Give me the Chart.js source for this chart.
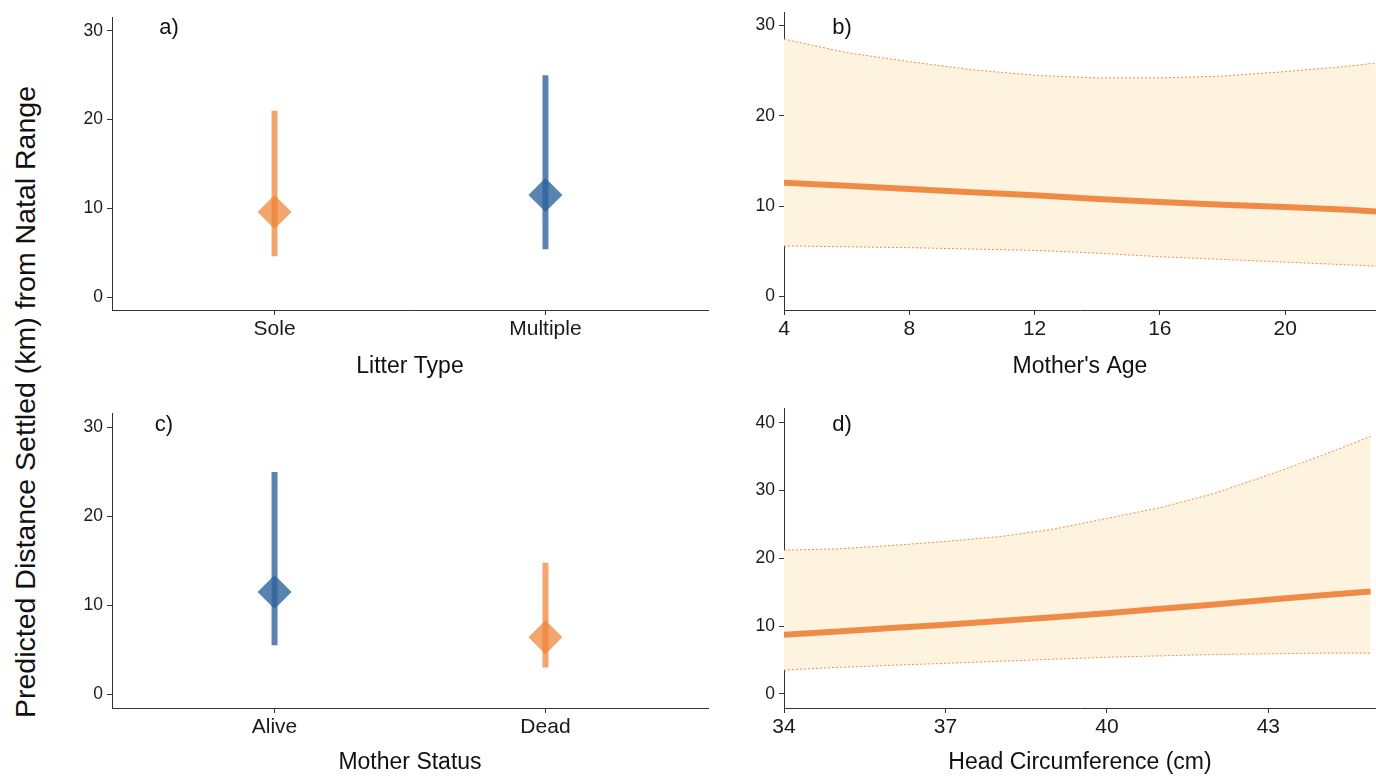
<!DOCTYPE html>
<html lang="en">
<head>
    <meta charset="UTF-8">
    <title>Predicted Distance Settled from Natal Range</title>
    <script src="https://cdn.jsdelivr.net/npm/chart.js@4.4.1/dist/chart.umd.min.js"></script>
    <style>
        body {
            margin: 0;
            width: 1376px;
            height: 780px;
            position: relative;
            overflow: hidden;
            background: #ffffff;
            font-family: 'Liberation Sans', Arial, sans-serif;
        }
        .panel { position: absolute; }
        .tag {
            position: absolute;
            font-size: 22px;
            color: #111;
            transform: translate(-50%, -50%);
        }
        #y-title {
            position: absolute;
            left: 25px;
            top: 402px;
            font-size: 28.5px;
            color: #111;
            white-space: nowrap;
            transform: translate(-50%, -50%) rotate(-90deg);
        }
    </style>
</head>
<body>
    <div id="y-title">Predicted Distance Settled (km) from Natal Range</div>

    <div class="panel" style="left:40px; top:0px;"><canvas id="panelA" width="690" height="392"></canvas></div>
    <div class="panel" style="left:720px; top:0px;"><canvas id="panelB" width="656" height="392"></canvas></div>
    <div class="panel" style="left:40px; top:396px;"><canvas id="panelC" width="690" height="384"></canvas></div>
    <div class="panel" style="left:720px; top:396px;"><canvas id="panelD" width="656" height="384"></canvas></div>

    <div class="tag" style="left:169px; top:27px;">a)</div>
    <div class="tag" style="left:842px; top:27px;">b)</div>
    <div class="tag" style="left:164px; top:424px;">c)</div>
    <div class="tag" style="left:842px; top:424px;">d)</div>

    <script>
        // a) litter type
        const litterTypes = ['Sole', 'Multiple'];
        const litterEst = [9.6, 11.5];
        const litterLow = [4.6, 5.4];
        const litterHigh = [21.0, 25.0];
        const litterColors = ['orange', 'blue'];

        // c) mother status
        const motherStatus = ['Alive', 'Dead'];
        const statusEst = [11.5, 6.4];
        const statusLow = [5.5, 3.0];
        const statusHigh = [25.0, 14.8];
        const statusColors = ['blue', 'orange'];

        // b) mother's age
        const ageX = [4, 6, 8, 10, 12, 14, 16, 18, 20, 22, 23];
        const ageFit = [12.6, 12.25, 11.9, 11.55, 11.2, 10.8, 10.45, 10.15, 9.9, 9.6, 9.4];
        const ageLow = [5.6, 5.5, 5.4, 5.25, 5.1, 4.8, 4.4, 4.1, 3.8, 3.5, 3.35];
        const ageHigh = [28.5, 27.0, 26.0, 25.1, 24.5, 24.2, 24.2, 24.4, 24.9, 25.5, 25.9];
        const ageTicks = [4, 8, 12, 16, 20];

        // d) head circumference
        const headX = [34, 35, 36, 37, 38, 39, 40, 41, 42, 43, 44, 44.9];
        const headFit = [8.7, 9.2, 9.7, 10.2, 10.75, 11.3, 11.9, 12.55, 13.2, 13.9, 14.55, 15.1];
        const headLow = [3.5, 3.9, 4.2, 4.5, 4.8, 5.1, 5.4, 5.6, 5.8, 5.9, 6.0, 6.0];
        const headHigh = [21.2, 21.4, 21.9, 22.5, 23.2, 24.3, 25.9, 27.5, 29.6, 32.3, 35.2, 38.0];
        const headTicks = [34, 37, 40, 43];

        const yTicks30 = [0, 10, 20, 30];
        const yTicks40 = [0, 10, 20, 30, 40];

        const PALETTE = {
            orange: 'rgba(238, 130, 54, 0.72)',
            blue: 'rgba(46, 99, 155, 0.79)'
        };
        const LINE_COLOR = '#F08B47';
        const RIBBON_COLOR = '#FDF3DF';
        const AXIS_COLOR = '#333333';
        const FONT = "'Liberation Sans', Arial, sans-serif";

        Chart.defaults.font.family = FONT;
        Chart.defaults.color = '#1a1a1a';

        function fixedSize(prop, size) {
            return function (scale) {
                scale[prop] = size;
                scale.paddingTop = 0;
                scale.paddingBottom = 0;
                scale.paddingLeft = 0;
                scale.paddingRight = 0;
            };
        }

        function setTicks(values) {
            return function (scale) {
                scale.ticks = values.map(v => ({ value: v }));
            };
        }

        function axisStyle() {
            return {
                grid: { display: true, drawOnChartArea: false, drawTicks: true, tickLength: 5, color: AXIS_COLOR, lineWidth: 1 },
                border: { display: true, color: AXIS_COLOR, width: 1 }
            };
        }

        function xScale(opts) {
            return Object.assign({
                type: 'linear',
                min: opts.min,
                max: opts.max,
                afterBuildTicks: setTicks(opts.ticks),
                afterFit: fixedSize('height', opts.height),
                ticks: {
                    padding: 2,
                    font: { size: 21 },
                    callback: opts.labels ? (v => opts.labels[v - 1]) : (v => v)
                },
                title: {
                    display: true,
                    text: opts.title,
                    color: '#111',
                    font: { size: 23 },
                    padding: { top: 0, bottom: opts.titlePad }
                }
            }, axisStyle());
        }

        function yScale(opts) {
            return Object.assign({
                type: 'linear',
                min: opts.min,
                max: opts.max,
                afterBuildTicks: setTicks(opts.ticks),
                afterFit: fixedSize('width', opts.width),
                ticks: { padding: 4, font: { size: 17.5 } }
            }, axisStyle());
        }

        function commonOptions(scales, padRight) {
            return {
                responsive: false,
                animation: false,
                events: [],
                layout: { padding: { left: 0, right: padRight, top: 12, bottom: 0 } },
                plugins: { legend: { display: false }, tooltip: { enabled: false } },
                scales: scales
            };
        }

        // error bar + diamond per category
        function categoryDatasets(est, low, high, colors) {
            const sets = [];
            est.forEach((e, i) => {
                const col = PALETTE[colors[i]];
                sets.push({
                    data: [{ x: i + 1, y: low[i] }, { x: i + 1, y: high[i] }],
                    borderColor: col,
                    borderWidth: 6,
                    borderCapStyle: 'butt',
                    pointRadius: 0
                });
                sets.push({
                    data: [{ x: i + 1, y: e }],
                    showLine: false,
                    pointStyle: 'rectRot',
                    pointRadius: 17,
                    pointBorderWidth: 0,
                    pointBackgroundColor: col,
                    pointBorderColor: col
                });
            });
            return sets;
        }

        // fitted line first so it is painted last (on top of the ribbon)
        function ribbonDatasets(xs, fit, low, high) {
            const pts = arr => xs.map((x, i) => ({ x: x, y: arr[i] }));
            return [
                {
                    data: pts(fit),
                    borderColor: LINE_COLOR,
                    borderWidth: 6,
                    pointRadius: 0,
                    fill: false,
                    clip: 0
                },
                {
                    data: pts(low),
                    borderColor: LINE_COLOR,
                    borderWidth: 1,
                    borderDash: [2, 2],
                    pointRadius: 0,
                    fill: false,
                    clip: 0
                },
                {
                    data: pts(high),
                    borderColor: LINE_COLOR,
                    borderWidth: 1,
                    borderDash: [2, 2],
                    pointRadius: 0,
                    backgroundColor: RIBBON_COLOR,
                    fill: '-1',
                    clip: 0
                }
            ];
        }

        new Chart(document.getElementById('panelA'), {
            type: 'line',
            data: { datasets: categoryDatasets(litterEst, litterLow, litterHigh, litterColors) },
            options: commonOptions({
                x: xScale({ min: 0.4, max: 2.6, ticks: [1, 2], labels: litterTypes, height: 82, title: 'Litter Type', titlePad: 12 }),
                y: yScale({ min: -1.45, max: 31.55, ticks: yTicks30, width: 72 })
            }, 22)
        });

        new Chart(document.getElementById('panelB'), {
            type: 'line',
            data: { datasets: ribbonDatasets(ageX, ageFit, ageLow, ageHigh) },
            options: commonOptions({
                x: xScale({ min: 4, max: 22.9, ticks: ageTicks, height: 82, title: "Mother's Age", titlePad: 12 }),
                y: yScale({ min: -1.5, max: 31.5, ticks: yTicks30, width: 64 })
            }, 0)
        });

        new Chart(document.getElementById('panelC'), {
            type: 'line',
            data: { datasets: categoryDatasets(statusEst, statusLow, statusHigh, statusColors) },
            options: commonOptions({
                x: xScale({ min: 0.4, max: 2.6, ticks: [1, 2], labels: motherStatus, height: 72, title: 'Mother Status', titlePad: 4 }),
                y: yScale({ min: -1.55, max: 31.65, ticks: yTicks30, width: 72 })
            }, 22)
        });

        new Chart(document.getElementById('panelD'), {
            type: 'line',
            data: { datasets: ribbonDatasets(headX, headFit, headLow, headHigh) },
            options: commonOptions({
                x: xScale({ min: 34, max: 45, ticks: headTicks, height: 72, title: 'Head Circumference (cm)', titlePad: 4 }),
                y: yScale({ min: -2.1, max: 42.2, ticks: yTicks40, width: 64 })
            }, 0)
        });
    </script>
</body>
</html>
